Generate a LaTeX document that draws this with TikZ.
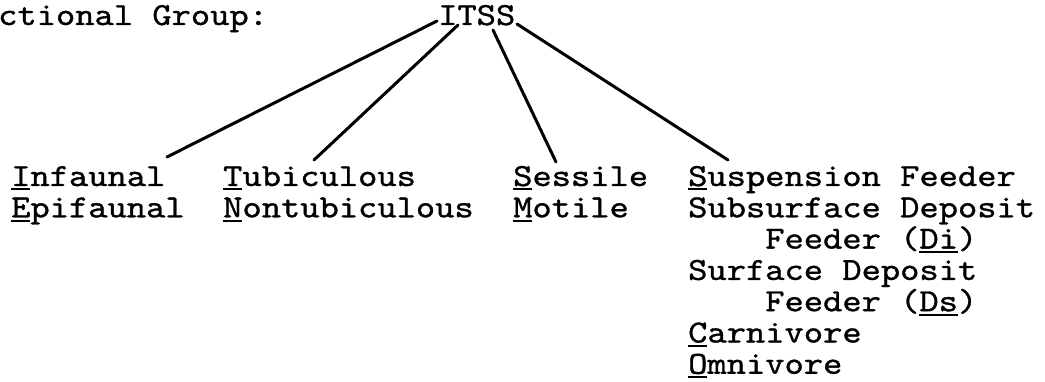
\documentclass[tikz,border=0pt]{standalone}
\usepackage{fontspec}
\newfontfamily\tw{lmmono10-regular}[Extension=.otf,FakeBold=1.0,FakeStretch=1.14]
\newcommand\ulx[1]{\setbox0\hbox{#1}\rlap{\rule[-4.5pt]{\wd0}{2pt}}\box0}
\begin{document}
\begin{tikzpicture}[x=1pt,y=-1pt,
  txt/.style={inner sep=0pt,anchor=base west,font=\tw\fontsize{32.2pt}{31.3pt}\selectfont},
  link/.style={line width=3pt,line cap=round}]
\useasboundingbox (0,0) rectangle (1045,382);
% top row
\node[txt] (fg) at (-2,25) {ctional Group:};
\node[txt] (itss) at (438,25) {ITSS};
% column A
\node[txt] (a1) at (11,186) {\ulx{I}nfaunal};
\node[txt] (a2) at (11,217.3) {\ulx{E}pifaunal};
% column B
\node[txt] (b1) at (223,186) {\ulx{T}ubiculous};
\node[txt] (b2) at (223,217.3) {\ulx{N}ontubiculous};
% column C
\node[txt] (c1) at (513,186) {\ulx{S}essile};
\node[txt] (c2) at (513,217.3) {\ulx{M}otile};
% column D
\node[txt] (d1) at (688,186) {\ulx{S}uspension Feeder};
\node[txt] (d2) at (688,217.3) {Subsurface Deposit};
\node[txt] (d3) at (688,248.6) {\hphantom{Subs}Feeder (\ulx{Di})};
\node[txt] (d4) at (688,279.9) {Surface Deposit};
\node[txt] (d5) at (688,311.2) {\hphantom{Surf}Feeder (\ulx{Ds})};
\node[txt] (d6) at (688,342.5) {\ulx{C}arnivore};
\node[txt] (d7) at (688,373.8) {\ulx{O}mnivore};
% connector ends
\coordinate (sA) at (437,21);
\coordinate (sB) at (458,25);
\coordinate (sC) at (493,30);
\coordinate (sD) at (517,24);
\coordinate (eA) at (167,157);
\coordinate (eB) at (314,160);
\coordinate (eC) at (556,162);
\coordinate (eD) at (728,160);
\draw[link] (sA) -- (eA);
\draw[link] (sB) -- (eB);
\draw[link] (sC) -- (eC);
\draw[link] (sD) -- (eD);
\end{tikzpicture}
\end{document}
